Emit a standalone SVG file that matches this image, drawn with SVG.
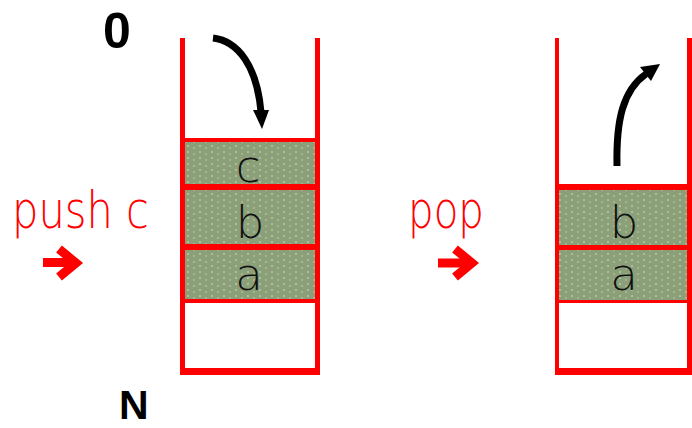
<svg xmlns="http://www.w3.org/2000/svg" width="692" height="428" viewBox="0 0 692 428">
<style>
.wall{fill:#ff0000}
.cell{fill:url(#dither)}
.lbl{font-family:"DejaVu Sans",Verdana,sans-serif;font-weight:200;font-size:45px;fill:#111;text-anchor:middle}
.op{font-family:"DejaVu Sans",Verdana,sans-serif;font-weight:200;font-size:52px;fill:#ff0000}
.idx{font-family:"Liberation Sans",Arial,sans-serif;font-weight:bold;fill:#000}
.curve{fill:none;stroke:#000;stroke-width:7;stroke-linecap:butt}
.red-arrow{fill:none;stroke:#ff0000;stroke-width:9}
</style>
<defs>
<pattern id="dither" patternUnits="userSpaceOnUse" width="12" height="6" x="185" y="0">
<rect width="12" height="6" fill="#8ba079"/>
<rect x="2" y="1" width="2" height="2" fill="#aebd9c"/>
<rect x="8" y="3" width="2" height="2" fill="#a3b490"/>
</pattern>
</defs>
<g id="index-labels">
<text class="idx" x="103" y="48" font-size="50">0</text>
<text class="idx" x="119" y="419" font-size="41">N</text>
</g>
<g id="stack-push">
<rect class="cell" x="185" y="142" width="130" height="42"/>
<rect class="cell" x="185" y="190" width="130" height="54"/>
<rect class="cell" x="185" y="250" width="130" height="49"/>
<rect class="wall" x="180" y="38" width="5" height="337"/>
<rect class="wall" x="315" y="38" width="5" height="337"/>
<rect class="wall" x="180" y="368" width="140" height="7"/>
<rect class="wall" x="180" y="138" width="140" height="4"/>
<rect class="wall" x="180" y="184" width="140" height="6"/>
<rect class="wall" x="180" y="244" width="140" height="6"/>
<rect class="wall" x="180" y="299" width="140" height="4"/>
<text class="lbl" x="248" y="182">c</text>
<text class="lbl" x="250" y="238">b</text>
<text class="lbl" x="249" y="290">a</text>
</g>
<g id="stack-pop">
<rect class="cell" x="559" y="190" width="128" height="55"/>
<rect class="cell" x="559" y="250" width="128" height="50"/>
<rect class="wall" x="555" y="38" width="4" height="337"/>
<rect class="wall" x="687" y="38" width="5" height="337"/>
<rect class="wall" x="555" y="368" width="137" height="7"/>
<rect class="wall" x="555" y="184" width="137" height="6"/>
<rect class="wall" x="555" y="245" width="137" height="5"/>
<rect class="wall" x="555" y="300" width="137" height="3"/>
<text class="lbl" x="624" y="238">b</text>
<text class="lbl" x="624" y="290">a</text>
</g>
<g id="label-push">
<text class="op" x="12" y="228" textLength="137" lengthAdjust="spacingAndGlyphs">push c</text>
</g>
<g id="label-pop">
<text class="op" x="408" y="228" textLength="76" lengthAdjust="spacingAndGlyphs">pop</text>
</g>
<g id="connectors">
<path class="curve" d="M213,38 C238,41 257,66 261,112"/>
<path d="M253,110 L269,110 L262,129 Z" fill="#000"/>
<path class="curve" d="M617,166 C616,120 623,90 646,74"/>
<path d="M640,67 L660,64 L651,81 Z" fill="#000"/>
<path class="red-arrow" d="M43,262.5 L72,262.5"/>
<path class="red-arrow" d="M59,249 L76,263 L59,277"/>
<path class="red-arrow" d="M438,263 L468,263"/>
<path class="red-arrow" d="M455,249 L472,263 L455,277"/>
</g>
</svg>
